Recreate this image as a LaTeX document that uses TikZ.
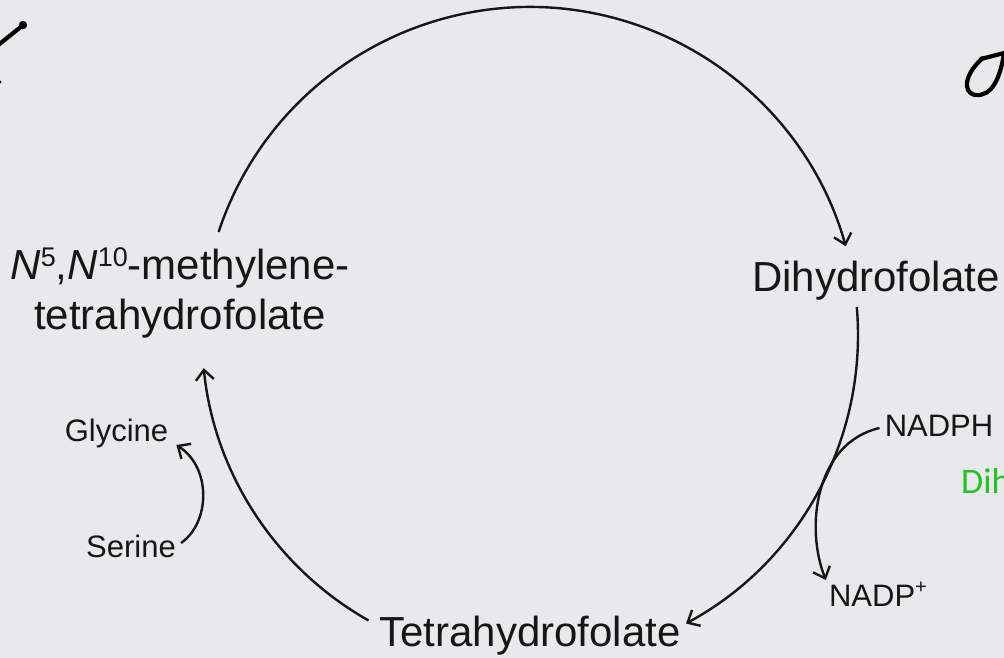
\documentclass[tikz,border=0pt]{standalone}
\usepackage{fontspec}
\setmainfont{Liberation Sans}
\newfontfamily\greenfont{Carlito}
\usetikzlibrary{arrows.meta,calc}
\definecolor{bgc}{RGB}{231,234,235}
\definecolor{ink}{RGB}{22,22,22}
\definecolor{grn}{RGB}{40,190,40}
\newcommand{\supbig}[1]{\raisebox{0.31em}{\fontsize{27}{27}\selectfont #1}}
\newcommand{\supsmall}[1]{\raisebox{0.42em}{\fontsize{20}{20}\selectfont #1}}
\begin{document}
\begin{tikzpicture}[x=1pt,y=1pt,
  big/.style={font=\fontsize{42}{50}\selectfont, inner sep=0pt, text=ink, anchor=base},
  small/.style={font=\fontsize{31}{36}\selectfont, inner sep=0pt, text=ink, anchor=base},
  conn/.style={draw=ink, line width=2.4pt, -{Straight Barb[length=10pt,width=18pt]}},
  hand/.style={draw=black, line width=4.2pt, line cap=round}]
\fill[bgc] (0,0) rectangle (1004,658);
\useasboundingbox (0,0) rectangle (1004,658);

% nodes
\node[big, align=center] (mthf) at (180,328) {\textit{N}\supbig{5},\textit{N}\supbig{10}-methylene-\\tetrahydrofolate};
\node[big] (dhf) at (876,366) {Dihydrofolate};
\node[big] (thf) at (530,11) {Tetrahydrofolate};
\node[small] (gly) at (116.5,216) {Glycine};
\node[small] (ser) at (131,100) {Serine};
\node[small] (nadph) at (939,221) {NADPH};
\node[small] (nadp) at (878,51) {NADP\supsmall{+}};
\coordinate (cyc) at (530,323);

% cycle arcs
\draw[conn] ($(cyc)+(161.7:328pt)$) arc[start angle=161.7, end angle=15.7, radius=328pt];
\draw[conn] ($(cyc)+(4.9:328pt)$) arc[start angle=4.9, end angle=-61.6, radius=328pt];
\draw[conn] ($(cyc)+(240.5:328pt)$) arc[start angle=240.5, end angle=185.8, radius=328pt];

% side reactions
\draw[conn] ([shift={(-5pt,9pt)}]nadph.base west) .. controls (815,215) and (805,130) .. ([shift={(-3pt,27pt)}]nadp.base west);
\draw[conn] ([shift={(5pt,15pt)}]ser.base east) .. controls (210,135) and (212,190) .. ([shift={(8pt,-3pt)}]gly.base east);

% clipped green label and handwriting fragments
\begin{scope}
\clip (0,0) rectangle (1004,658);
\node[font=\greenfont\fontsize{36}{40}\selectfont, text=grn, anchor=base west, inner sep=0pt] (enz) at (961,164) {Dih};
\draw[hand] (-3,612) -- (22,632);
\fill[black] (23,633) circle (4.2);
\fill[black] (0,576) circle (1.6);
\draw[hand] (981,599) -- (1008,606);
\draw[hand] (983,600) .. controls (966,586) and (961,566) .. (975,563) .. controls (992,561) and (1000,580) .. (1004,604);
\end{scope}
\end{tikzpicture}
\end{document}
